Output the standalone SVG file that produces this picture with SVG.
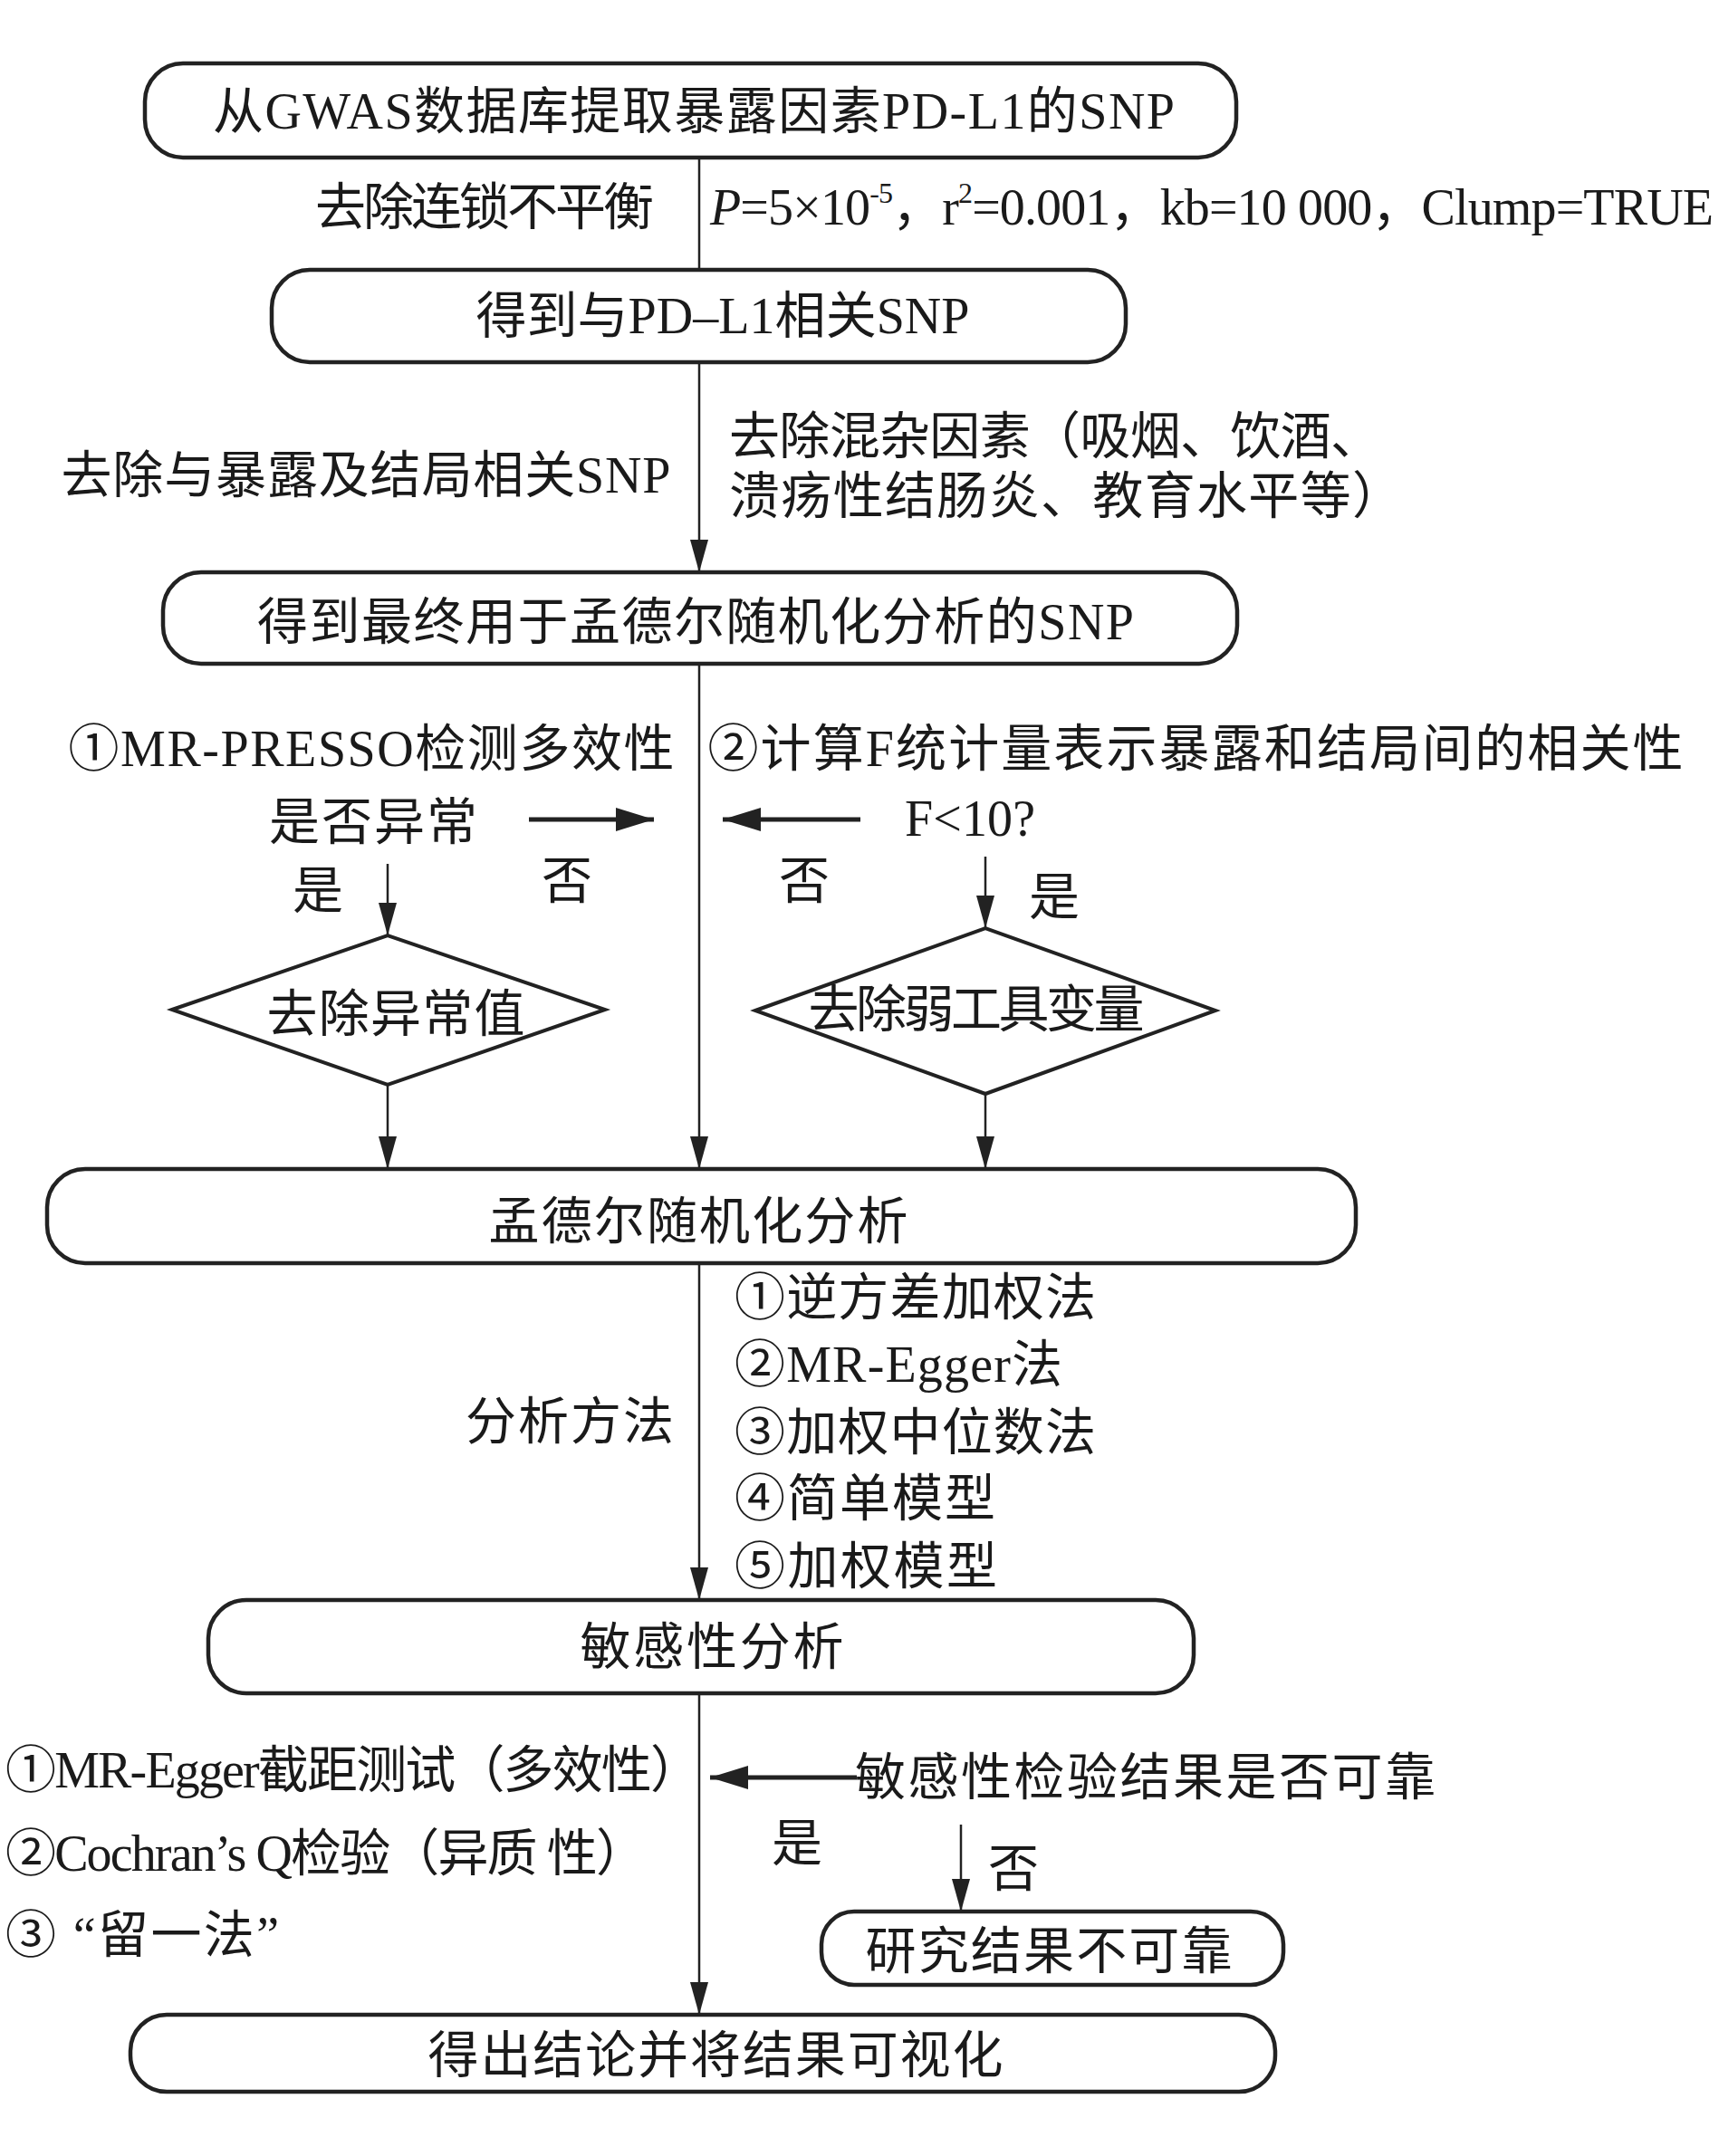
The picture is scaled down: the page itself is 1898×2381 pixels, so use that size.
<svg xmlns="http://www.w3.org/2000/svg" width="1898" height="2381" viewBox="0 0 1898 2381">
<style>
.t{font-family:"Liberation Serif","Noto Sans CJK SC",serif;font-size:56px;fill:#1a1a1a;dominant-baseline:central;text-anchor:middle}
.l{text-anchor:start}
.box{fill:#fff;stroke:#222;stroke-width:4.5}
.dia{fill:#fff;stroke:#222;stroke-width:4}
.c{fill:none;stroke:#222;stroke-width:2.5}
.cb{fill:none;stroke:#222;stroke-width:5}
</style>
<defs>
<marker id="ah" markerUnits="userSpaceOnUse" markerWidth="36" markerHeight="20" viewBox="0 0 36 20" refX="36" refY="10" orient="auto"><path d="M0,0 L36,10 L0,20 Z" fill="#222"/></marker>
<marker id="ahb" markerUnits="userSpaceOnUse" markerWidth="42" markerHeight="26" viewBox="0 0 42 26" refX="42" refY="13" orient="auto"><path d="M0,0 L42,13 L0,26 Z" fill="#222"/></marker>
</defs>
<rect width="1898" height="2381" fill="#fff"/>

<g id="connectors">
<line class="c" x1="772" y1="174" x2="772" y2="298"/>
<line class="c" x1="772" y1="400" x2="772" y2="632" marker-end="url(#ah)"/>
<line class="c" x1="772" y1="733" x2="772" y2="1291" marker-end="url(#ah)"/>
<line class="c" x1="772" y1="1395" x2="772" y2="1767" marker-end="url(#ah)"/>
<line class="c" x1="772" y1="1870" x2="772" y2="2225" marker-end="url(#ah)"/>
<line class="cb" x1="584" y1="905" x2="722" y2="905" marker-end="url(#ahb)"/>
<line class="cb" x1="950" y1="905" x2="798" y2="905" marker-end="url(#ahb)"/>
<line class="c" x1="428" y1="954" x2="428" y2="1033" marker-end="url(#ah)"/>
<line class="c" x1="1088" y1="946" x2="1088" y2="1025" marker-end="url(#ah)"/>
<line class="c" x1="428" y1="1198" x2="428" y2="1291" marker-end="url(#ah)"/>
<line class="c" x1="1088" y1="1208" x2="1088" y2="1291" marker-end="url(#ah)"/>
<line class="cb" x1="946" y1="1963" x2="784" y2="1963" marker-end="url(#ahb)"/>
<line class="c" x1="1061" y1="2015" x2="1061" y2="2111" marker-end="url(#ah)"/>
</g>

<g id="node-gwas">
<rect class="box" x="160" y="70" width="1205" height="104" rx="42"/>
<text class="t" x="766" y="123" textLength="1062">从GWAS数据库提取暴露因素PD-L1的SNP</text>
</g>
<g id="label-ld">
<text class="t" x="535" y="229" textLength="374">去除连锁不平衡</text>
<text class="t l" x="784" y="229" font-size="54" textLength="1108"><tspan font-style="italic">P</tspan>=5×10<tspan font-size="32" dy="-16">-5</tspan><tspan dy="16">，r</tspan><tspan font-size="32" dy="-16">2</tspan><tspan dy="16">=0.001，kb=10 000，Clump=TRUE</tspan></text>
</g>
<g id="node-pdl1">
<rect class="box" x="300" y="298" width="943" height="102" rx="42"/>
<text class="t" x="798" y="349" textLength="545">得到与PD–L1相关SNP</text>
</g>
<g id="label-confound">
<text class="t" x="404" y="525" textLength="673">去除与暴露及结局相关SNP</text>
<text class="t l" x="805" y="482" textLength="720">去除混杂因素（吸烟、饮酒、</text>
<text class="t l" x="805" y="548" textLength="744">溃疡性结肠炎、教育水平等）</text>
</g>
<g id="node-final-snp">
<rect class="box" x="180" y="632" width="1186" height="101" rx="42"/>
<text class="t" x="768" y="687" textLength="968">得到最终用于孟德尔随机化分析的SNP</text>
</g>
<g id="label-checks">
<text class="t" x="410" y="827" textLength="669">①MR-PRESSO检测多效性</text>
<text class="t" x="1320" y="827" textLength="1077">②计算F统计量表示暴露和结局间的相关性</text>
<text class="t" x="412" y="908" textLength="230">是否异常</text>
<text class="t" x="1071" y="904" textLength="144">F&lt;10?</text>
<text class="t" x="351" y="984">是</text>
<text class="t" x="626" y="973">否</text>
<text class="t" x="888" y="973">否</text>
<text class="t" x="1164" y="991">是</text>
</g>
<g id="node-outlier">
<polygon class="dia" points="190,1115 428,1033 668,1115 428,1198"/>
<text class="t" x="437" y="1120" textLength="285">去除异常值</text>
</g>
<g id="node-weak-iv">
<polygon class="dia" points="834,1116 1088,1025 1342,1116 1088,1208"/>
<text class="t" x="1078" y="1115" textLength="371">去除弱工具变量</text>
</g>
<g id="node-mr">
<rect class="box" x="52" y="1291" width="1445" height="104" rx="42"/>
<text class="t" x="771" y="1349" textLength="463">孟德尔随机化分析</text>
</g>
<g id="label-methods">
<text class="t" x="629" y="1570" textLength="230">分析方法</text>
<text class="t l" x="811" y="1433" textLength="399">①逆方差加权法</text>
<text class="t l" x="811" y="1507" textLength="362">②MR-Egger法</text>
<text class="t l" x="811" y="1582" textLength="399">③加权中位数法</text>
<text class="t l" x="811" y="1655" textLength="288">④简单模型</text>
<text class="t l" x="811" y="1730" textLength="290">⑤加权模型</text>
</g>
<g id="node-sensitivity">
<rect class="box" x="230" y="1767" width="1088" height="103" rx="42"/>
<text class="t" x="786" y="1819" textLength="291">敏感性分析</text>
</g>
<g id="label-sens">
<text class="t l" x="6" y="1955" textLength="768">①MR-Egger截距测试（多效性）</text>
<text class="t l" x="6" y="2047" textLength="708">②Cochran’s Q检验（异质 性）</text>
<text class="t l" x="6" y="2137" textLength="302">③ “留一法”</text>
<text class="t l" x="944" y="1963" textLength="641">敏感性检验结果是否可靠</text>
<text class="t" x="880" y="2036">是</text>
<text class="t" x="1119" y="2064">否</text>
</g>
<g id="node-unreliable">
<rect class="box" x="907" y="2111" width="510" height="81" rx="36"/>
<text class="t" x="1158" y="2155" textLength="405">研究结果不可靠</text>
</g>
<g id="node-conclusion">
<rect class="box" x="144" y="2225" width="1264" height="85" rx="40"/>
<text class="t" x="790" y="2270" textLength="635">得出结论并将结果可视化</text>
</g>
</svg>
